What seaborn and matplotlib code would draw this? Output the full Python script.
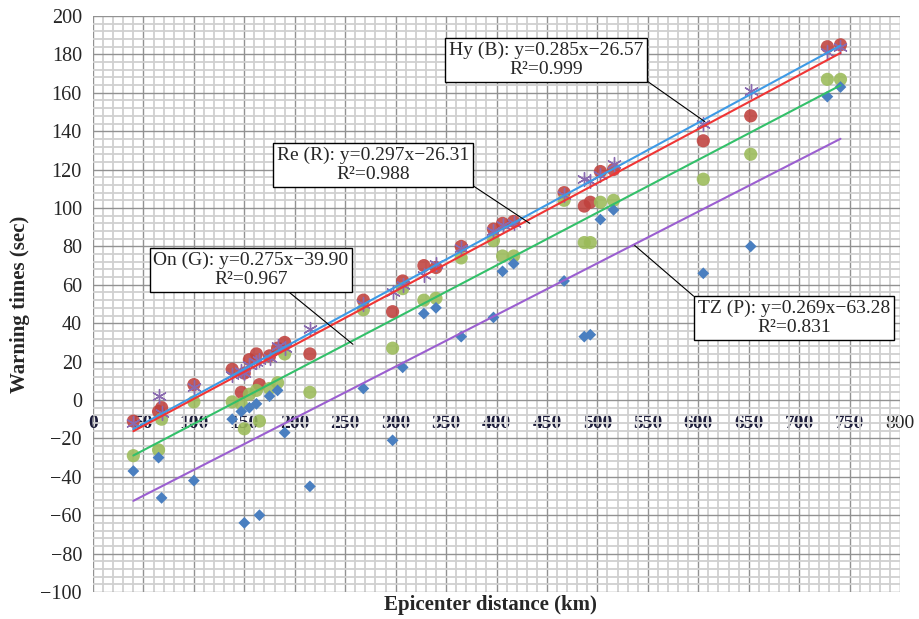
import pandas as pd
import seaborn as sns
import matplotlib
matplotlib.use("Agg")
import matplotlib.pyplot as plt
from matplotlib.ticker import MultipleLocator

sns.set_style("white")
plt.rcParams['font.family'] = ['Liberation Serif', 'DejaVu Serif']

# epicentre distance of each record (km)
distance = [40, 65, 68, 100, 138, 147, 150, 155, 162, 165, 175, 183, 190, 215,
            268, 297, 307, 328, 340, 365, 397, 406, 417, 467, 487, 493, 503,
            516, 605, 652, 728, 741]

# warning times (sec), one list per method
hy = [-12, 2, -7, 7, 13, 15, 14, 18, 20, 21, 22, 28, 27, 37, 50, 56, 60, 65,
      71, 79, 88, 91, 92, 107, 115, 114, 117, 123, 144, 161, 181, 184]
re = [-11, -6, -4, 8, 16, 4, 14, 21, 24, 8, 23, 27, 30, 24, 52, 46, 62, 70,
      69, 80, 89, 92, 93, 108, 101, 103, 119, 120, 135, 148, 184, 185]
on = [-29, -26, -10, -1, -1, -2, -15, 3, 5, -11, 6, 9, 24, 4, 47, 27, 58, 52,
      53, 74, 83, 75, 75, 104, 82, 82, 103, 104, 115, 128, 167, 167]
tz = [-37, -30, -51, -42, -10, -6, -64, -4, -2, -60, 2, 5, -17, -45, 6, -21,
      17, 45, 48, 33, 43, 67, 71, 62, 33, 34, 94, 99, 66, 80, 158, 163]

# text printed in the equation boxes
fit_labels = ['Hy (B): y=0.285x\u221226.57\nR\u00b2=0.999',
              'Re (R): y=0.297x\u221226.31\nR\u00b2=0.988',
              'On (G): y=0.275x\u221239.90\nR\u00b2=0.967',
              'TZ (P): y=0.269x\u221263.28\nR\u00b2=0.831']
# trendlines as they are drawn (the red one is drawn flatter than its label)
slopes = [0.285, 0.281, 0.275, 0.269]
intercepts = [-26.57, -27.5, -39.90, -63.28]

df = pd.DataFrame({'dist': distance, 'Hy': hy, 'Re': re, 'On': on, 'TZ': tz})

fig = plt.figure(figsize=(9.19, 6.19), dpi=100)
ax = fig.add_axes([93 / 919, 27 / 619, 807 / 919, 576 / 619])

# grid like an Excel chart: light minor lines, darker major lines
ax.set_xlim(0, 800)
ax.set_ylim(-100, 200)
ax.xaxis.set_major_locator(MultipleLocator(50))
ax.xaxis.set_minor_locator(MultipleLocator(10))
ax.yaxis.set_major_locator(MultipleLocator(20))
ax.yaxis.set_minor_locator(MultipleLocator(4))
ax.grid(which='minor', color='#d0d0d0', lw=1.3)
ax.grid(which='major', color='#929292', lw=1.0)
ax.set_axisbelow(True)

# markers
sns.scatterplot(data=df, x='dist', y='Re', ax=ax, color='#c0413d', marker='o',
                s=90, edgecolor='none', alpha=0.88)
sns.scatterplot(data=df, x='dist', y='On', ax=ax, color='#9bbb59', marker='o',
                s=90, edgecolor='none', alpha=0.88)
sns.scatterplot(data=df, x='dist', y='TZ', ax=ax, color='#4a7fc0', marker='D',
                s=36, edgecolor='none')
sns.scatterplot(data=df, x='dist', y='Hy', ax=ax, color='#8a6ab0', marker=(6, 2, 0),
                s=100, linewidth=1.0)

# trendlines
line_colors = ['#3d9ae6', '#f03535', '#33c06a', '#9b5fd0']
x_span = [min(distance), max(distance)]
for k in range(4):
    y_span = [slopes[k] * v + intercepts[k] for v in x_span]
    sns.lineplot(x=x_span, y=y_span, ax=ax, color=line_colors[k], lw=1.5)

# equation boxes with leader lines (text centre, leader target, start on box)
box_text = [(449, 177), (277.5, 122.4), (156.6, 67.7), (695, 42.7)]
leader_to = [(606.5, 145), (433, 92), (257.7, 29), (537, 80.5)]
leader_from = [(1, 0), (1, 0), (0.67, 0), (0, 1)]
for k in range(4):
    ax.annotate(fit_labels[k], xy=leader_to[k], xytext=box_text[k], textcoords='data',
                ha='center', va='center', multialignment='center', fontsize=14,
                linespacing=1.15,
                bbox=dict(boxstyle='square,pad=0.2', fc='white', ec='black', lw=1),
                arrowprops=dict(arrowstyle='-', color='black', lw=0.8,
                                relpos=leader_from[k], shrinkA=0, shrinkB=0))

# x tick labels sit along y = 0
for side in ['top', 'right', 'left']:
    ax.spines[side].set_visible(False)
ax.spines['bottom'].set_position(('data', 0))
ax.spines['bottom'].set_visible(False)
ax.tick_params(axis='x', which='both', length=0, pad=11, labelsize=14)
ax.tick_params(axis='y', which='major', length=4, width=0.8, color='#8a8a8a',
               pad=4, labelsize=14.5)
ax.tick_params(axis='y', which='minor', length=0)
ax.set_xticks(range(0, 801, 50))
ax.set_xticklabels([str(v) for v in range(0, 801, 50)])
for lab in ax.get_xticklabels()[:-1]:
    lab.set_fontweight('bold')
    lab.set_color('#1c1c3a')

ax.set_xlabel('')
ax.set_ylabel('')
fig.text(490 / 919, 1 - 605 / 619, 'Epicenter distance (km)', ha='center', va='center',
         fontsize=15, fontweight='bold')
fig.text(20 / 919, 1 - 304 / 619, 'Warning times (sec)', ha='center', va='center',
         rotation=90, fontsize=15, fontweight='bold')

fig.savefig('out.png', dpi=100)
